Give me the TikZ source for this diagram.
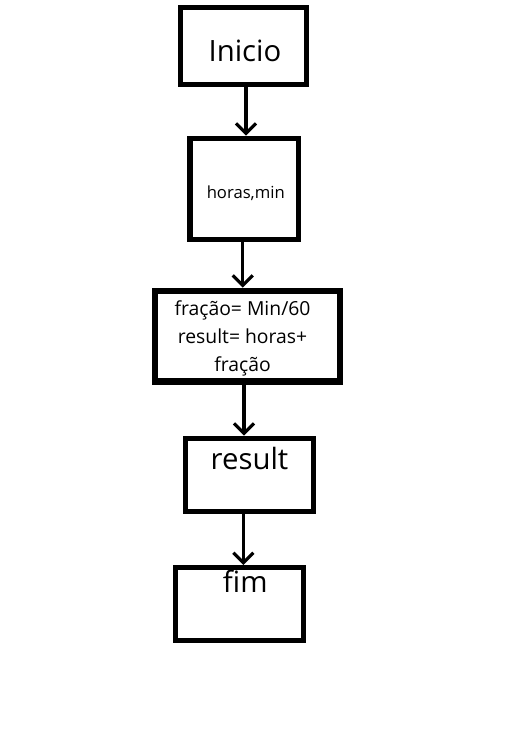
\documentclass[tikz,border=0pt]{standalone}
\usepackage{fontspec}
\setmainfont{Open Sans}
\usetikzlibrary{arrows.meta}
\newcommand{\bigtxt}{\fontsize{22pt}{26pt}\selectfont}

\begin{document}
\begin{tikzpicture}[x=0.75pt,y=-0.75pt,
  box/.style={draw, line width=4pt, inner sep=0pt},
  txt/.style={inner sep=0pt, align=center},
  flow/.style={line width=2.4pt, -{Straight Barb[length=7.5pt,width=15pt]}}]
\useasboundingbox (0,0) rectangle (506,754);
\node[box, minimum width=94.8pt, minimum height=57.75pt,
  label={[txt, font=\bigtxt, xshift=1.1pt, yshift=-4pt]center:Inicio}]
  (inicio) at (243.5,46) {};
\node[box, minimum width=81.5pt, minimum height=76pt,
  label={[txt, font=\fontsize{12.5pt}{15pt}\selectfont, xshift=1.1pt, yshift=-3.3pt]center:horas,min}]
  (horas) at (244.3,189) {};
\node[box, line width=5pt, minimum width=138.75pt, minimum height=68pt,
  label={[txt, font=\fontsize{14.5pt}{21pt}\selectfont, xshift=-3.75pt, yshift=-1.5pt]center:fração= Min/60\\result= horas+\\fração}]
  (calc) at (247.5,336.3) {};
\node[box, line width=3.75pt, minimum width=95.5pt, minimum height=54.75pt,
  label={[txt, font=\bigtxt, yshift=12.5pt]center:result}]
  (result) at (249.5,474.7) {};
\node[box, line width=3.75pt, minimum width=95.5pt, minimum height=55pt,
  label={[txt, font=\bigtxt, xshift=4.35pt, yshift=17.2pt]center:fim}]
  (fim) at (239.5,604.2) {};
\draw[flow] ([xshift=1.9pt]inicio.south) -- ([xshift=1.9pt]inicio.south |- horas.north);
\draw[flow] ([xshift=-1.2pt]horas.south) -- ([xshift=-1.2pt]horas.south |- calc.north);
\draw[flow] ([xshift=-2.6pt]calc.south) -- ([xshift=-2.6pt]calc.south |- result.north);
\draw[flow] ([xshift=-4.65pt]result.south) -- ([xshift=-4.65pt]result.south |- fim.north);
\end{tikzpicture}
\end{document}
